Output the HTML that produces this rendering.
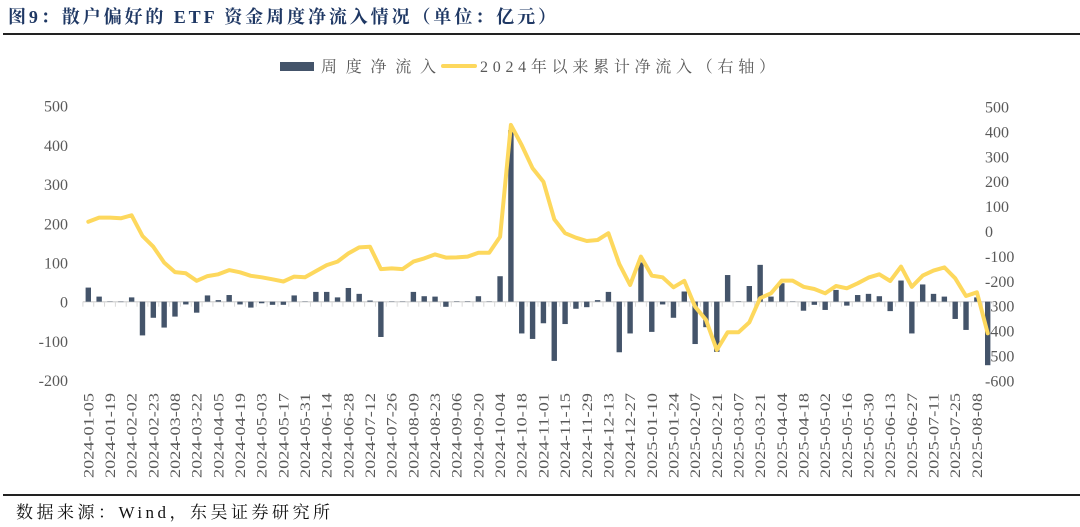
<!DOCTYPE html>
<html><head><meta charset="utf-8">
<style>
body{margin:0;background:#fff;}
svg{display:block;}
</style></head>
<body>
<svg id="chart" width="1080" height="527" viewBox="0 0 1080 527" xmlns="http://www.w3.org/2000/svg">
<text x="8" y="23" textLength="548" lengthAdjust="spacing" font-family="'Liberation Serif','Noto Serif CJK SC',serif" font-weight="bold" font-size="18" fill="#1f3864">图9：散户偏好的 ETF 资金周度净流入情况（单位：亿元）</text>
<rect x="3" y="33" width="1077" height="2" fill="#222"/>
<rect x="3" y="494" width="1077" height="2" fill="#222"/>
<text x="16" y="518" textLength="314" lengthAdjust="spacing" font-family="'Liberation Serif','Noto Serif CJK SC',serif" font-size="17" fill="#111">数据来源：Wind，东吴证券研究所</text>
<g>
<rect x="280" y="62" width="34" height="9" fill="#44546a"/>
<text x="321" y="72" textLength="115" lengthAdjust="spacing" font-family="'Liberation Serif','Noto Serif CJK SC',serif" font-size="16" fill="#595959">周度净流入</text>
<rect x="441" y="64" width="36" height="4" rx="2" fill="#fdd85d"/>
<text x="480" y="72" textLength="295" lengthAdjust="spacing" font-family="'Liberation Serif','Noto Serif CJK SC',serif" font-size="16" fill="#595959">2024年以来累计净流入（右轴）</text>
</g>
<g id="plot"></g>
</svg>
<script>
const weeklyFlow=[36,13,0,-1,11,-86,-41,-66,-38,-7,-28,16,4,17,-7,-15,-4,-8,-8,16,0,25,25,11,35,20,3,-90,
0,0,25,14,13,-13,1,1,14,0,65,438,-81,-95,-55,-151,-57,-18,-14,4,25,-129,-81,100,-77,-7,-41,26,
-108,-65,-128,68,1,40,94,13,47,0,-23,-8,-21,30,-10,17,20,14,-24,54,-81,44,20,13,-44,-72,11,-162];
const cumulativeFlow=[37,54,54,51,63,-20,-63,-127,-165,-170,-200,-181,-174,-157,-166,-180,-186,-194,-203,-183,-186,-161,-137,-123,-90,-66,-63,-153,
-150,-153,-123,-110,-94,-107,-106,-103,-87,-87,-23,426,345,252,198,47,-9,-27,-40,-36,-9,-133,-217,-103,-179,-186,-226,-200,
-304,-357,-478,-407,-407,-367,-270,-250,-199,-199,-224,-233,-250,-221,-230,-210,-187,-174,-201,-143,-224,-179,-159,-146,-190,-261,-246,-411];
const dateLabels=["2024-01-05","2024-01-19","2024-02-02","2024-02-23","2024-03-08","2024-03-22","2024-04-05","2024-04-19","2024-05-03","2024-05-17","2024-05-31","2024-06-14","2024-06-28","2024-07-12","2024-07-26","2024-08-09","2024-08-23","2024-09-06","2024-09-20","2024-10-04","2024-10-18","2024-11-01","2024-11-15","2024-11-29","2024-12-13","2024-12-27","2025-01-10","2025-01-24","2025-02-07","2025-02-21","2025-03-07","2025-03-21","2025-04-04","2025-04-18","2025-05-02","2025-05-16","2025-05-30","2025-06-13","2025-06-27","2025-07-11","2025-07-25","2025-08-08"];
const leftTicks=[500,400,300,200,100,0,-100,-200];
const rightTicks=[500,400,300,200,100,0,-100,-200,-300,-400,-500,-600];

const NS="http://www.w3.org/2000/svg";
const g=document.getElementById('plot');
const font="'Liberation Serif','Noto Serif CJK SC',serif";
function mk(t,a){const e=document.createElementNS(NS,t);for(const k in a)e.setAttribute(k,a[k]);g.appendChild(e);return e;}
const x0=88.3, step=(987.7-88.3)/(weeklyFlow.length-1);
function xs(i){return x0+i*step;}
function yl(v){return 301.7-v*0.392;}
function yr(v){return 231-v*0.249;}

leftTicks.forEach(v=>{const t=mk('text',{x:68,y:yl(v)+6,'text-anchor':'end','font-family':font,'font-size':16,fill:'#595959'});t.textContent=v;

});
rightTicks.forEach(v=>{const t=mk('text',{x:985,y:yr(v)+6,'text-anchor':'start','font-family':font,'font-size':16,fill:'#595959'});t.textContent=v;

});

const ax=mk('line',{x1:x0-step/2,x2:xs(weeklyFlow.length-1)+step/2,y1:yl(0),y2:yl(0),stroke:'#d9d9d9','stroke-width':1.5});


for(let i=0;i<=weeklyFlow.length;i++){const tk=mk('line',{x1:x0-step/2+i*step,x2:x0-step/2+i*step,y1:yl(0),y2:yl(0)+5,stroke:'#d9d9d9','stroke-width':1});

}

weeklyFlow.forEach((v,i)=>{const y=Math.min(yl(v),yl(0)),h=Math.abs(yl(v)-yl(0));
const b=mk('rect',{x:xs(i)-2.7,y:y,width:5.4,height:Math.max(h,0.3),fill:'#44546a'});

});

const pts=cumulativeFlow.map((v,i)=>xs(i).toFixed(1)+','+yr(v).toFixed(1)).join(' ');
const pl=mk('polyline',{points:pts,fill:'none',stroke:'#fdd85d','stroke-width':4,'stroke-linejoin':'round','stroke-linecap':'round'});



dateLabels.forEach((d,k)=>{const x=xs(k*2)+5;const t=mk('text',{x:x,y:393,transform:`rotate(-90 ${x} 393)`,'text-anchor':'end','font-family':font,'font-size':15,textLength:85,lengthAdjust:'spacingAndGlyphs',fill:'#595959'});t.textContent=d;

});
</script>
</body></html>
